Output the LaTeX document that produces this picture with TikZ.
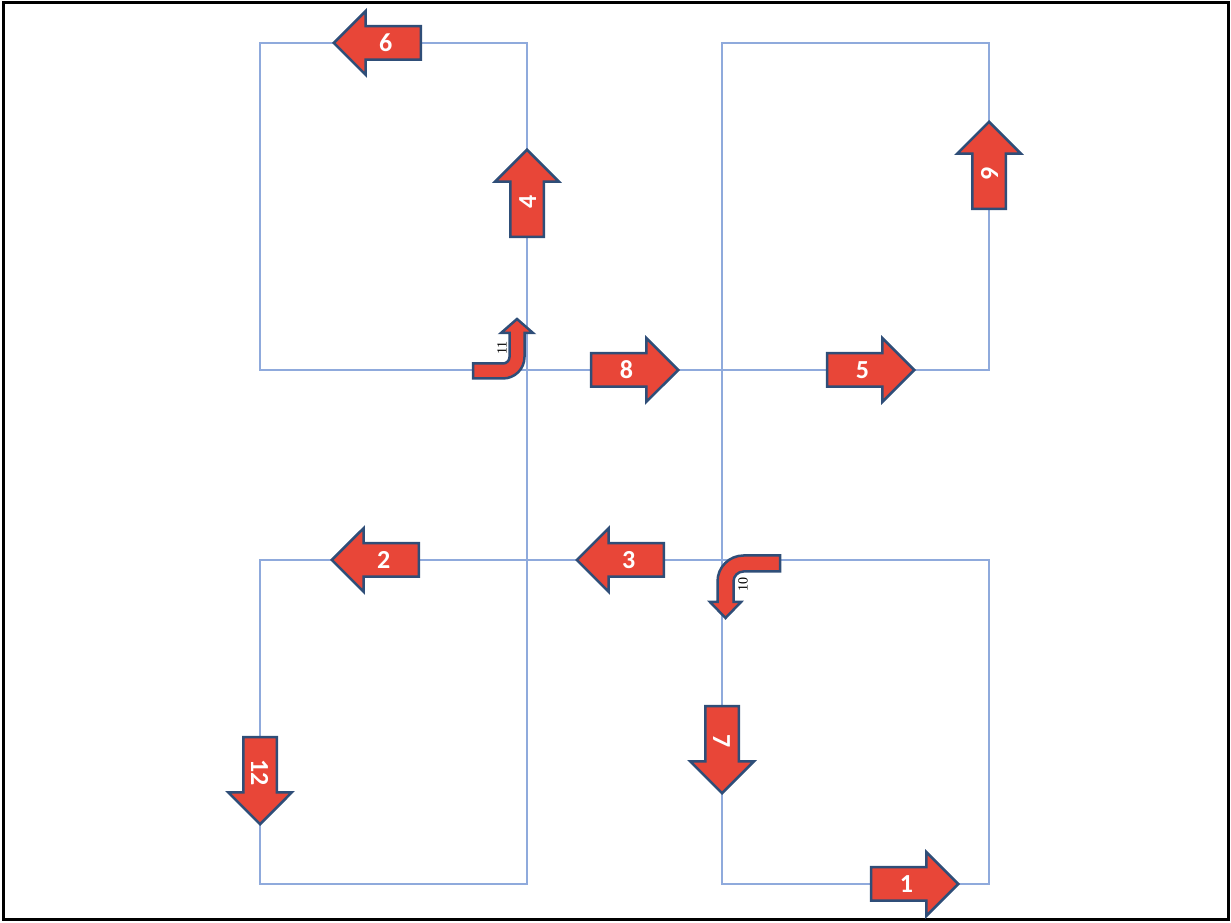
\documentclass[tikz,border=0pt]{standalone}
\usepackage{fontspec}
\setmainfont{Carlito}
\newfontfamily\tagfont{Liberation Serif}
\usetikzlibrary{shapes.arrows}

\definecolor{gridblue}{RGB}{143,170,220}
\definecolor{arrowred}{RGB}{232,70,56}
\definecolor{arrowedge}{RGB}{47,78,120}

\begin{document}
\begin{tikzpicture}[
  x=1pt, y=1pt,
  grid/.style={draw=gridblue, line width=1.5pt},
  blockarrow/.style={single arrow, draw=arrowedge, fill=arrowred,
                     line width=2.5pt, text=white,
                     font=\fontsize{26}{26}\selectfont\bfseries,
                     minimum height=87pt, single arrow head extend=15pt,
                     single arrow tip angle=90, text height=18pt,
                     text depth=0pt, inner ysep=6.5pt, inner xsep=2pt,
                     anchor=tip},
  goleft/.style={blockarrow, shape border rotate=180},
  goup/.style={blockarrow, rotate=90},
  godown/.style={blockarrow, rotate=-90},
  bentarrow/.style={draw=arrowedge, fill=arrowred, line width=2.5pt},
  tag/.style={font=\tagfont\fontsize{14}{14}\selectfont, rotate=90,
              inner sep=0pt},
]
\useasboundingbox (0,0) rectangle (1231,923);
\draw[line width=3pt] (3,3) rectangle (1228,920);

% grid of four squares
\foreach \x/\ya/\yb in {260/880/553, 722/880/553, 260/363/39, 722/363/39}
  \draw[grid] (\x,\ya) rectangle ++(267,\yb-\ya);
\draw[grid] (527,880) -- (527,39);
\draw[grid] (722,880) -- (722,39);
\draw[grid] (260,553) -- (989,553);
\draw[grid] (260,363) -- (989,363);

% straight arrows
\node[blockarrow] (a1)  at (960,39)  {1};
\node[goleft]     (a2)  at (330,363) {2};
\node[goleft]     (a3)  at (575,363) {3};
\node[goup]       (a4)  at (527,775) {4};
\node[blockarrow] (a5)  at (916,553) {5};
\node[goleft]     (a6)  at (332,880) {6};
\node[godown]     (a7)  at (722,128) {7};
\node[blockarrow] (a8)  at (680,553) {8};
\node[goup]       (a9)  at (989,803) {9};
\node[godown]     (a12) at (260,97)  {12};

% bent arrow 11
\draw[bentarrow] (473,559.5) -- (503,559.5) arc (-90:0:6.5) -- (509.5,590)
  -- (501,590) -- (517,604) -- (533,590) -- (524.5,590) -- (524.5,566)
  arc (0:-90:21.5) -- (473,544.5) -- cycle;
\node[tag] (t11) at (502,575) {11};

% bent arrow 10
\draw[bentarrow] (780,367.5) -- (743.5,367.5) arc (90:180:26) -- (717.5,321)
  -- (710,321) -- (725.5,305) -- (741,321) -- (733.5,321) -- (733.5,341.5)
  arc (180:90:10) -- (780,351.5) -- cycle;
\node[tag] (t10) at (743,338) {10};
\end{tikzpicture}
\end{document}
